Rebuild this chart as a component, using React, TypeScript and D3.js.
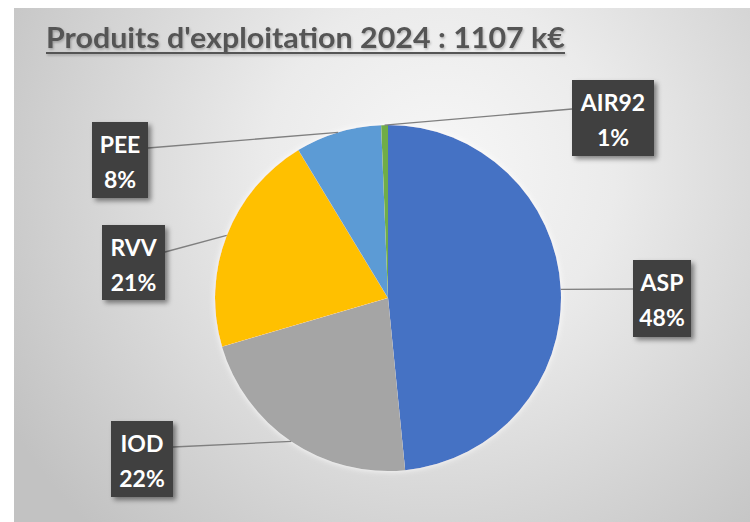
import React from 'react';
import * as d3 from 'd3';

// Produits d'exploitation 2024 (k€)
const categories = ['ASP', 'IOD', 'RVV', 'PEE', 'AIR92'];
const values = [536, 244, 231, 89, 7];
const colors = ['#4472C4', '#A5A5A5', '#FFC000', '#5B9BD5', '#70AD47'];
const title = "Produits d'exploitation 2024 : 1107 k€";

// label box placement (layout only)
const labelBoxes: Record<string, { x: number; y: number; w: number; h: number; ax: number; ay: number }> = {
  ASP: { x: 633, y: 260, w: 58, h: 77, ax: 633, ay: 289 },
  IOD: { x: 111, y: 421, w: 62, h: 76, ax: 173, ay: 447 },
  RVV: { x: 102, y: 225, w: 63, h: 75, ax: 165, ay: 252 },
  PEE: { x: 92, y: 122, w: 56, h: 76, ax: 148, ay: 148 },
  AIR92: { x: 572, y: 80, w: 82, h: 76, ax: 572, ay: 109 },
};

const W = 750;
const H = 522;
const cx = 388;
const cy = 298;
const R = 173;

type Datum = { name: string; value: number; color: string };

const App: React.FC = () => {
  const data: Datum[] = categories.map((name, i) => ({ name, value: values[i], color: colors[i] }));
  const total = d3.sum(values);

  const pie = d3.pie<Datum>().value(d => d.value).sort(null);
  const arcs = pie(data);
  const arc = d3.arc<d3.PieArcDatum<Datum>>().innerRadius(0).outerRadius(R);
  const fmt = d3.format('.0%');

  return (
    <div style={{ position: 'absolute', left: 0, top: 0 }}>
      <svg width={W} height={H} style={{ display: 'block' }}>
        <defs>
          <radialGradient id="bg" gradientUnits="userSpaceOnUse" cx={440} cy={170} r={500}>
            <stop offset="0" stopColor="#f7f7f7" />
            <stop offset="0.35" stopColor="#ebebeb" />
            <stop offset="1" stopColor="#c2c2c2" />
          </radialGradient>
          <filter id="boxShadow" x="-30%" y="-30%" width="160%" height="160%">
            <feDropShadow dx="3" dy="3" stdDeviation="2.5" floodColor="#000" floodOpacity="0.45" />
          </filter>
          <filter id="pieShadow" x="-20%" y="-20%" width="140%" height="140%">
            <feDropShadow dx="0" dy="0" stdDeviation="3" floodColor="#ffffff" floodOpacity="0.9" />
          </filter>
          <filter id="titleShadow" x="-5%" y="-30%" width="110%" height="160%">
            <feDropShadow dx="1" dy="1.5" stdDeviation="1" floodColor="#000" floodOpacity="0.25" />
          </filter>
        </defs>
        <rect x={0} y={0} width={W} height={H} fill="#ffffff" />
        <rect x={14} y={8} width={W - 14} height={H - 8} fill="url(#bg)" />

        <g filter="url(#titleShadow)">
          <text
            x={46}
            y={48}
            fontFamily="Lato, 'Open Sans', sans-serif"
            fontWeight="bold"
            fontSize={29}
            fill="#555555"
            textLength={519}
            lengthAdjust="spacingAndGlyphs"
          >
            {title}
          </text>
          <line x1={46} x2={565} y1={53} y2={53} stroke="#555555" strokeWidth={2} />
        </g>

        <g transform={`translate(${cx},${cy})`} filter="url(#pieShadow)">
          {arcs.map(a => (
            <path key={a.data.name} d={arc(a) || ''} fill={a.data.color} />
          ))}
        </g>

        {arcs.map(a => {
          const mid = (a.startAngle + a.endAngle) / 2;
          const ex = cx + Math.sin(mid) * R;
          const ey = cy - Math.cos(mid) * R;
          const b = labelBoxes[a.data.name];
          return (
            <line key={'l' + a.data.name} x1={b.ax} y1={b.ay} x2={ex} y2={ey} stroke="#7f7f7f" strokeWidth={1.3} />
          );
        })}

        {arcs.map(a => {
          const b = labelBoxes[a.data.name];
          const mx = b.x + b.w / 2;
          return (
            <g key={'b' + a.data.name}>
              <rect x={b.x} y={b.y} width={b.w} height={b.h} fill="#3f3f3f" filter="url(#boxShadow)" />
              <text
                x={mx}
                y={b.y + 31}
                textAnchor="middle"
                fontFamily="Lato, 'Open Sans', sans-serif"
                fontWeight="bold"
                fontSize={23}
                fill="#ffffff"
              >
                {a.data.name}
              </text>
              <text
                x={mx}
                y={b.y + 66}
                textAnchor="middle"
                fontFamily="Lato, 'Open Sans', sans-serif"
                fontWeight="bold"
                fontSize={23}
                fill="#ffffff"
              >
                {fmt(a.data.value / total)}
              </text>
            </g>
          );
        })}
      </svg>
    </div>
  );
};

export default App;
